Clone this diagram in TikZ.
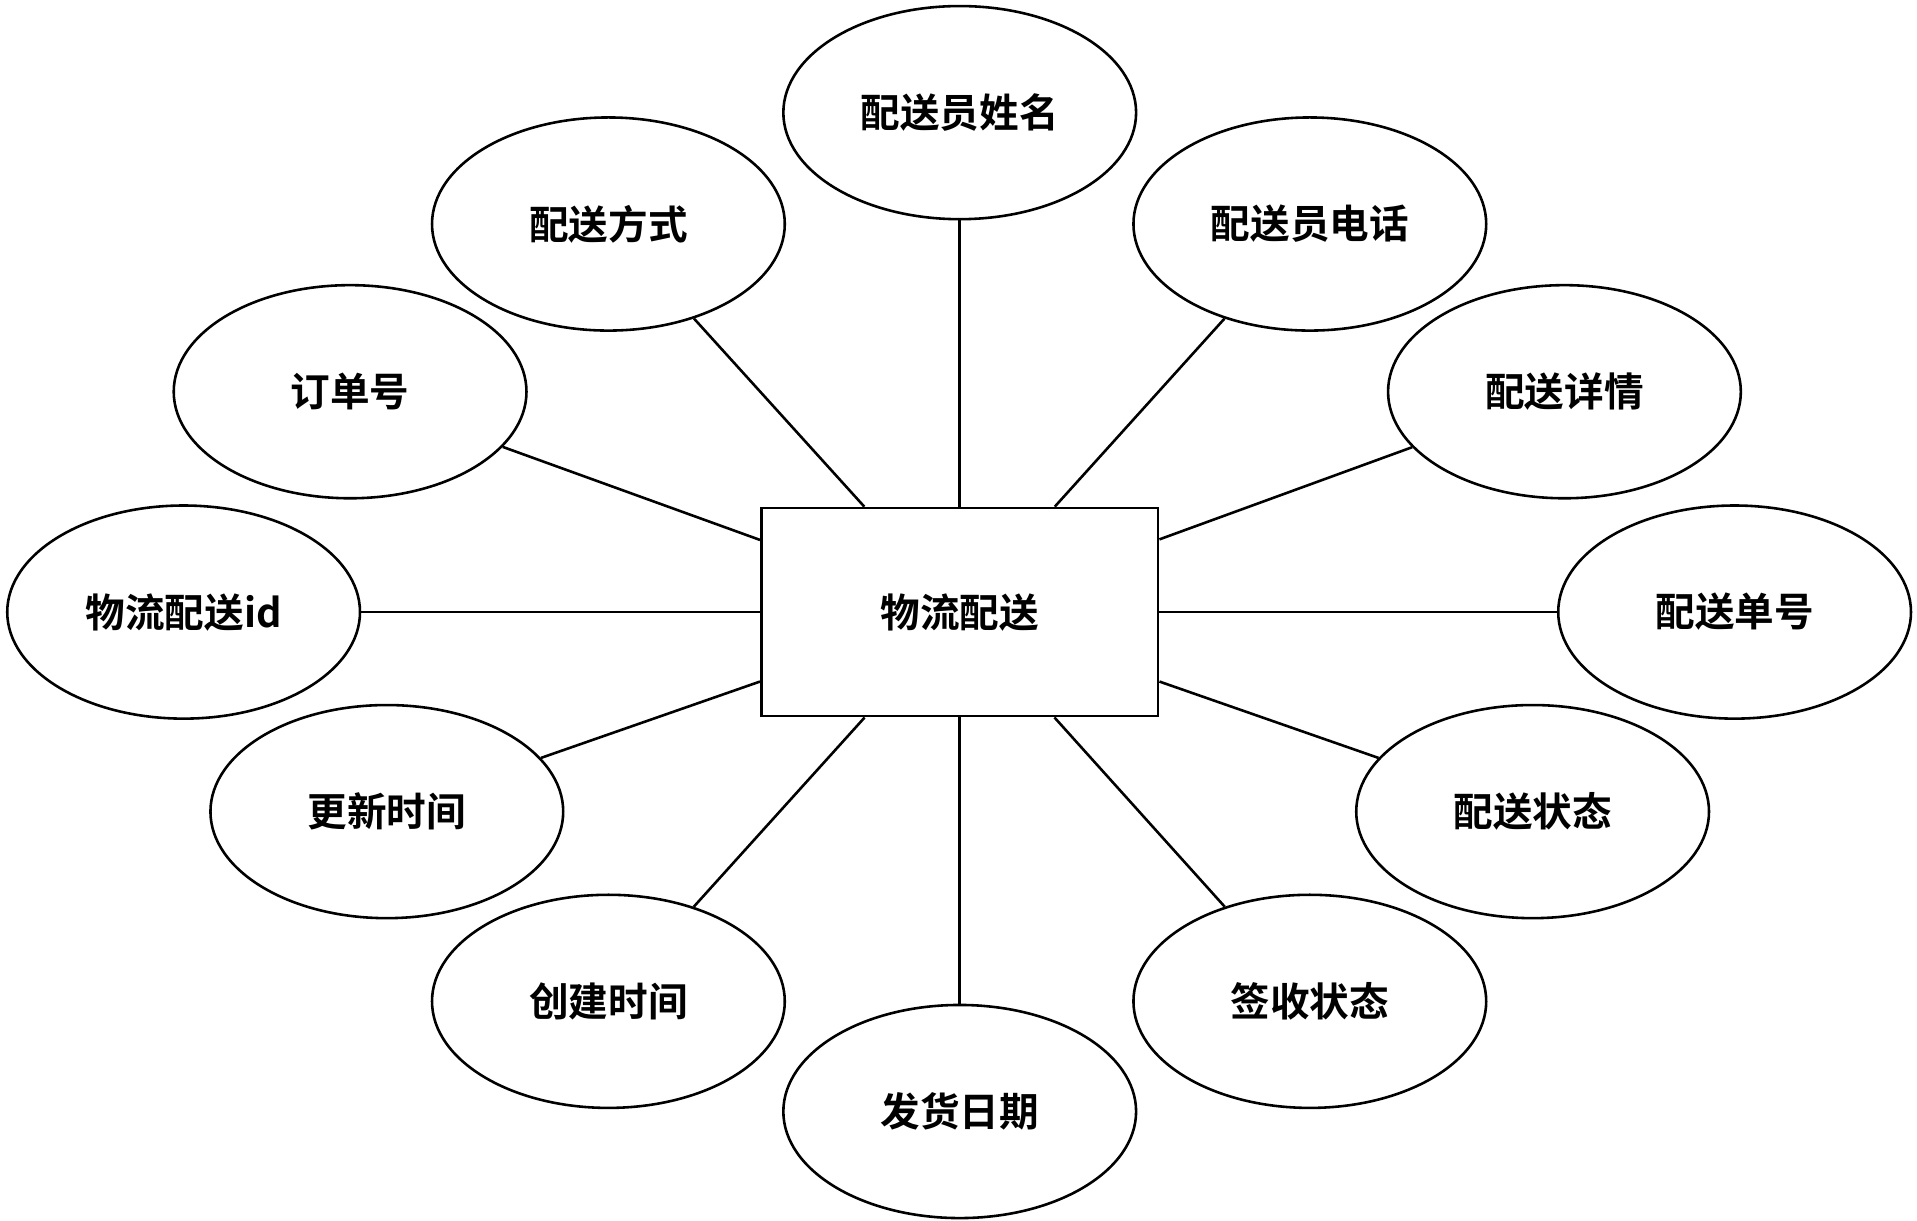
\documentclass[tikz,border=0pt]{standalone}
\usepackage{fontspec}
\setmainfont{Noto Sans CJK SC}[BoldFont={Noto Sans CJK SC Bold}]
\usetikzlibrary{shapes.geometric}

\begin{document}
\begin{tikzpicture}[x=0.01cm,y=-0.01cm,
    attr/.style={draw,line width=0.6pt,ellipse,minimum width=2.88cm,minimum height=1.74cm,inner sep=0pt,font=\fontsize{9.2}{11}\selectfont\bfseries},
    entity/.style={draw,line width=0.6pt,rectangle,minimum width=3.24cm,minimum height=1.7cm,font=\fontsize{9.2}{11}\selectfont\bfseries},
    link/.style={-,line width=0.6pt}]
        \useasboundingbox (0,0) rectangle (1566,997);

        \node[entity] (wl) at (784,500) {物流配送};

        \node[attr] (xm) at (784,92) {配送员姓名};
        \node[attr] (fs) at (497,183) {配送方式};
        \node[attr] (dh) at (1070,183) {配送员电话};
        \node[attr] (dd) at (286,320) {订单号};
        \node[attr] (xq) at (1278,320) {配送详情};
        \node[attr] (id) at (150,500) {物流配送id};
        \node[attr] (dn) at (1417,500) {配送单号};
        \node[attr] (gx) at (316,663) {更新时间};
        \node[attr] (zt) at (1252,663) {配送状态};
        \node[attr] (cj) at (497,818) {创建时间};
        \node[attr] (qs) at (1070,818) {签收状态};
        \node[attr] (fh) at (784,908) {发货日期};

        \foreach \a in {xm,fs,dh,dd,xq,id,dn,gx,zt,cj,qs,fh}
            \draw[link] (wl) -- (\a);
    \end{tikzpicture}
\end{document}
